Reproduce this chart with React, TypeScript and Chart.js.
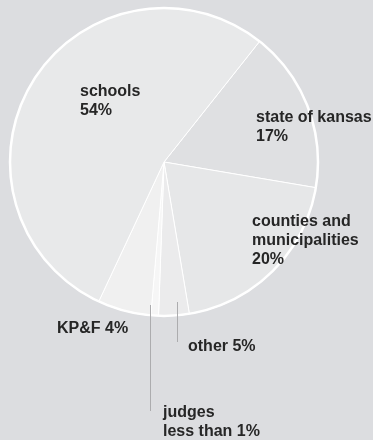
import React, { useEffect, useRef } from "react";
import { Chart, registerables } from "chart.js";

Chart.register(...registerables);

const categories = ["state of kansas", "counties and municipalities", "other", "judges", "KP&F", "schools"];
const shares = [17, 19.7, 3.2, 0.8, 5.6, 53.7];
const labelLines = [
  ["state of kansas", "17%"],
  ["counties and", "municipalities", "20%"],
  ["other 5%"],
  ["judges", "less than 1%"],
  ["KP&F 4%"],
  ["schools", "54%"],
];

const sliceColors = ["#dfe0e2", "#e6e7e8", "#ebebec", "#f6f6f6", "#f0f0f0", "#e8e9ea"];
// label anchor offsets from pie centre (left x, first baseline)
const labelOffsets = [
  [92, -40],
  [88, 64],
  [24, 189],
  [-1, 255],
  [-107, 171],
  [-84, -66],
];
// leader lines: [dx, dyStart, dyEnd] from pie centre, or null
const leaders: (number[] | null)[] = [null, null, [13, 140, 180], [-14, 143, 249], null, null];

const labelPlugin = {
  id: "pieLabels",
  afterDatasetsDraw(chart: any) {
    const arc = chart.getDatasetMeta(0).data[0];
    if (!arc) return;
    const ctx = chart.ctx;
    ctx.save();
    ctx.strokeStyle = "#ffffff";
    ctx.lineWidth = 2.5;
    ctx.beginPath();
    ctx.arc(arc.x, arc.y, arc.outerRadius, 0, Math.PI * 2);
    ctx.stroke();
    ctx.restore();
  },
  afterDraw(chart: any) {
    const arc = chart.getDatasetMeta(0).data[0];
    if (!arc) return;
    const cx = arc.x;
    const cy = arc.y;
    const ctx = chart.ctx;
    ctx.save();
    ctx.strokeStyle = "#acacae";
    ctx.lineWidth = 1;
    leaders.forEach((l) => {
      if (!l) return;
      const x = Math.round(cx + l[0]) + 0.5;
      ctx.beginPath();
      ctx.moveTo(x, cy + l[1]);
      ctx.lineTo(x, cy + l[2]);
      ctx.stroke();
    });
    ctx.fillStyle = "#262626";
    ctx.font = 'bold 16px "Liberation Sans", Arial, sans-serif';
    ctx.textBaseline = "alphabetic";
    ctx.textAlign = "left";
    labelLines.forEach((lines, i) => {
      const [dx, dy] = labelOffsets[i];
      lines.forEach((t, j) => {
        ctx.fillText(t, cx + dx, cy + dy + j * 19);
      });
    });
    ctx.restore();
  },
};

export default function App() {
  const ref = useRef<HTMLCanvasElement>(null);
  useEffect(() => {
    if (!ref.current) return;
    const chart = new Chart(ref.current, {
      type: "pie",
      data: {
        labels: categories,
        datasets: [
          {
            data: shares,
            backgroundColor: sliceColors,
            borderColor: "#ffffff",
            borderWidth: 1,
          },
        ],
      },
      options: {
        responsive: false,
        animation: false,
        rotation: 38.4,
        radius: 154,
        layout: { padding: { left: 4, top: 2, right: 49, bottom: 118 } },
        plugins: {
          legend: { display: false },
          tooltip: { enabled: false },
        },
      },
      plugins: [labelPlugin],
    });
    return () => chart.destroy();
  }, []);
  return (
    <div style={{ position: "absolute", left: 0, top: 0, width: 373, height: 440, background: "#dcdde0", overflow: "hidden" }}>
      <canvas ref={ref} width={373} height={440} style={{ display: "block" }} />
    </div>
  );
}
